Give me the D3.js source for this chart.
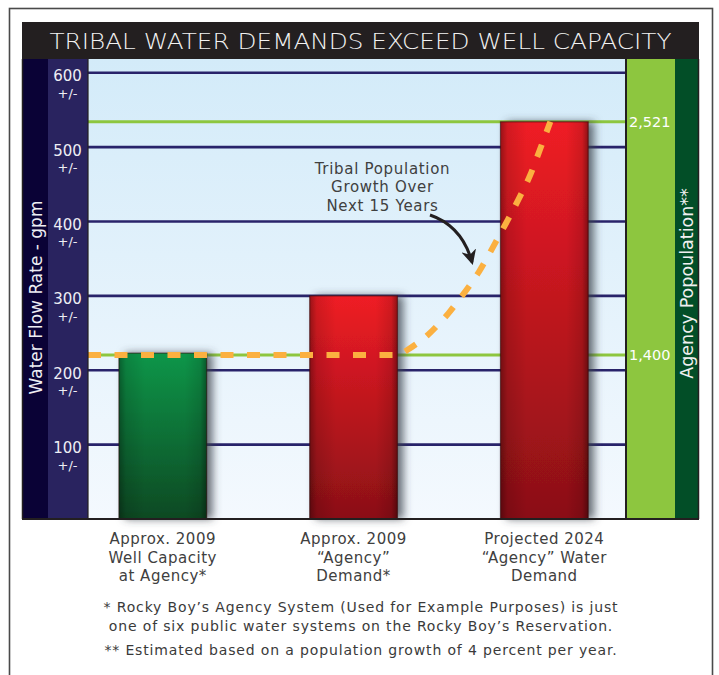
<!DOCTYPE html>
<html><head><meta charset="utf-8">
<script src="https://cdn.jsdelivr.net/npm/d3@7"></script>
<style>body{margin:0;background:#fff}</style>
</head><body>
<script>
// ---------- data ----------
const categoryKeys = ["capacity2009", "demand2009", "demand2024"];
const categoryLabels = [
  ["Approx. 2009", "Well Capacity", "at Agency*"],
  ["Approx. 2009", "\u201CAgency\u201D", "Demand*"],
  ["Projected 2024", "\u201CAgency\u201D Water", "Demand"]
];
const flowValues = [223, 300, 534];           // gpm
const barKinds = ["green", "red", "red"];
const flowTicks = [100, 200, 300, 400, 500, 600];
const popTicks = [1400, 2521];                // agency population labels
const popFlowEquivalent = [220.5, 534];       // gpm level at which each population line sits
const popYears = [2009, 2010, 2011, 2012, 2013, 2014, 2015, 2016, 2017, 2018, 2019, 2020, 2021, 2022, 2023, 2024];
const popValues = [1400, 1425, 1458, 1497, 1546, 1600, 1663, 1728, 1800, 1885, 1975, 2065, 2160, 2262, 2390, 2521];
const titleText = "TRIBAL WATER DEMANDS EXCEED WELL CAPACITY";
const yTitle = "Water Flow Rate - gpm";
const y2Title = "Agency Popoulation**";
const annotationLines = ["Tribal Population", "Growth Over", "Next 15 Years"];
const footnotes = [
  "* Rocky Boy\u2019s Agency System (Used for Example Purposes) is just",
  "one of six public water systems on the Rocky Boy\u2019s Reservation.",
  "** Estimated based on a population growth of 4 percent per year."
];

// ---------- layout ----------
const W = 719, H = 675;
const chartL = 22, chartR = 699, chartT = 59, chartB = 519;
const plotL = 88, plotR = 626;
const FONT = "'DejaVu Sans', sans-serif";

const svg = d3.select("body").append("svg").attr("width", W).attr("height", H)
  .style("font-family", FONT);
const defs = svg.append("defs");

// gradients
const bg = defs.append("linearGradient").attr("id", "plotBg").attr("x1", 0).attr("x2", 0).attr("y1", 0).attr("y2", 1);
bg.append("stop").attr("offset", "0%").attr("stop-color", "#d3ebf9");
bg.append("stop").attr("offset", "100%").attr("stop-color", "#f4f9fe");

function vGrad(id, top, bottom) {
  const g = defs.append("linearGradient").attr("id", id).attr("x1", 0).attr("x2", 0).attr("y1", 0).attr("y2", 1);
  g.append("stop").attr("offset", "0%").attr("stop-color", top);
  g.append("stop").attr("offset", "100%").attr("stop-color", bottom);
}
vGrad("green", "#0b9649", "#0b4923");
vGrad("red", "#ef1c25", "#8a1017");
const edge = defs.append("linearGradient").attr("id", "edge").attr("x1", 0).attr("x2", 1).attr("y1", 0).attr("y2", 0);
[[0, 0.35], [0.08, 0.12], [0.3, 0], [0.75, 0], [0.93, 0.12], [1, 0.4]].forEach(([o, a]) =>
  edge.append("stop").attr("offset", o).attr("stop-color", "#000").attr("stop-opacity", a));

const shadow = defs.append("filter").attr("id", "shadow").attr("x", "-30%").attr("y", "-20%").attr("width", "160%").attr("height", "140%");
shadow.append("feDropShadow").attr("dx", 6).attr("dy", 0).attr("stdDeviation", 4.5)
  .attr("flood-color", "#3a3f48").attr("flood-opacity", 0.75);

defs.append("marker").attr("id", "arrow").attr("viewBox", "0 0 10 10")
  .attr("refX", 8).attr("refY", 5).attr("markerWidth", 5).attr("markerHeight", 5)
  .attr("orient", "auto").attr("markerUnits", "strokeWidth")
  .append("path").attr("d", "M0,0 L10,5 L0,10 L3,5 Z").attr("fill", "#231f20");

// outer frame
svg.append("rect").attr("x", 9.5).attr("y", 8.5).attr("width", 703).attr("height", 720)
  .attr("fill", "none").attr("stroke", "#4a4a4a").attr("stroke-width", 1.6);

// title bar
svg.append("rect").attr("x", chartL).attr("y", 22).attr("width", chartR - chartL).attr("height", chartT - 22).attr("fill", "#231f20");
svg.append("text").attr("x", (chartL + chartR) / 2).attr("y", 48.5).attr("text-anchor", "middle")
  .attr("fill", "#f2f2f2").style("font-size", "21px").style("font-weight", 200)
  .attr("textLength", 622).attr("lengthAdjust", "spacingAndGlyphs")
  .text(titleText);

// scales
const y = d3.scaleLinear().domain([0, 600]).range([chartB, 72.7]);
const x = d3.scaleBand().domain(categoryKeys).range([plotL, plotR])
  .paddingInner(0.54).paddingOuter(0.18).align(0.45);
const yPop = d3.scaleLinear().domain(popTicks).range(popFlowEquivalent.map(v => y(v)));
const xYear = d3.scaleLinear().domain([popYears[0], popYears[popYears.length - 1]])
  .range([x(categoryKeys[1]) + x.bandwidth(), x(categoryKeys[2]) + x.bandwidth() / 2 + 6]);

// side bands
svg.append("rect").attr("x", chartL).attr("y", chartT).attr("width", 26).attr("height", chartB - chartT).attr("fill", "#0a0236");
svg.append("rect").attr("x", chartL + 26).attr("y", chartT).attr("width", plotL - chartL - 26).attr("height", chartB - chartT).attr("fill", "#29235f");
svg.append("rect").attr("x", plotR).attr("y", chartT).attr("width", 49).attr("height", chartB - chartT).attr("fill", "#8dc63f");
svg.append("rect").attr("x", plotR + 49).attr("y", chartT).attr("width", chartR - plotR - 49).attr("height", chartB - chartT).attr("fill", "#024e27");

// plot background
svg.append("rect").attr("x", plotL).attr("y", chartT).attr("width", plotR - plotL).attr("height", chartB - chartT).attr("fill", "url(#plotBg)");

// grid lines (left axis)
svg.append("g").attr("class", "grid").selectAll("line").data(flowTicks).join("line")
  .attr("x1", plotL).attr("x2", plotR).attr("y1", d => y(d)).attr("y2", d => y(d))
  .attr("stroke", "#28236a").attr("stroke-width", 2.6);

// left tick labels
const lt = svg.append("g").attr("fill", "#eeeef4").attr("text-anchor", "middle").style("font-size", "15px");
lt.selectAll("text.v").data(flowTicks).join("text").attr("class", "v")
  .attr("x", 67.5).attr("y", d => y(d) + 8.5).text(d => d);
lt.selectAll("text.pm").data(flowTicks).join("text").attr("class", "pm")
  .attr("x", 67.5).attr("y", d => y(d) + 25).style("font-size", "13px").text("+/-");

// population lines
svg.append("g").selectAll("line").data(popTicks).join("line")
  .attr("x1", plotL).attr("x2", plotR).attr("y1", d => yPop(d)).attr("y2", d => yPop(d))
  .attr("stroke", "#8dc63f").attr("stroke-width", 3);

// bars
const bars = svg.append("g").selectAll("g").data(categoryKeys).join("g");
bars.append("rect")
  .attr("x", d => x(d)).attr("width", x.bandwidth())
  .attr("y", (d, i) => y(flowValues[i])).attr("height", (d, i) => y(0) - y(flowValues[i]))
  .attr("fill", (d, i) => `url(#${barKinds[i]})`)
  .attr("filter", "url(#shadow)");
bars.append("rect")
  .attr("x", d => x(d)).attr("width", x.bandwidth())
  .attr("y", (d, i) => y(flowValues[i])).attr("height", (d, i) => y(0) - y(flowValues[i]))
  .attr("fill", "url(#edge)").attr("stroke", "rgba(40,10,10,0.55)").attr("stroke-width", 1.2);

// population dashed curve
const popPts = [{ px: plotL, pop: popValues[0] }].concat(popYears.map((yr, i) => ({ px: xYear(yr), pop: popValues[i] })));
svg.append("path").datum(popPts)
  .attr("d", d3.line().x(d => d.px).y(d => yPop(d.pop)).curve(d3.curveMonotoneX))
  .attr("fill", "none").attr("stroke", "#fbb040").attr("stroke-width", 6)
  .attr("stroke-dasharray", "13,13.5");

// right labels
svg.append("g").selectAll("text").data(popTicks).join("text")
  .attr("x", plotR + 3).attr("y", d => yPop(d) + 5.5).attr("fill", "#ffffff")
  .style("font-size", "14.5px").text(d3.format(","));

// frame lines
const fr = svg.append("g").attr("stroke", "#231f20");
fr.append("line").attr("x1", plotL).attr("x2", plotL).attr("y1", chartT).attr("y2", chartB).attr("stroke-width", 1.2);
fr.append("line").attr("x1", plotR).attr("x2", plotR).attr("y1", chartT).attr("y2", chartB).attr("stroke-width", 2);
fr.append("line").attr("x1", chartL).attr("x2", chartR).attr("y1", chartB).attr("y2", chartB).attr("stroke-width", 2.2);
fr.append("line").attr("x1", chartL + 0.5).attr("x2", chartL + 0.5).attr("y1", chartT).attr("y2", chartB).attr("stroke-width", 1.5);
fr.append("line").attr("x1", chartR - 0.5).attr("x2", chartR - 0.5).attr("y1", chartT).attr("y2", chartB).attr("stroke-width", 1.5);

// axis titles
svg.append("text").attr("transform", `translate(35.5,297.5) rotate(-90)`)
  .attr("text-anchor", "middle").attr("dominant-baseline", "central").attr("fill", "#eeeef4")
  .style("font-size", "17px").text(yTitle);
svg.append("text").attr("transform", `translate(687,283.5) rotate(-90)`)
  .attr("text-anchor", "middle").attr("dominant-baseline", "central").attr("fill", "#f0f0f0")
  .style("font-size", "17.5px").text(y2Title);

// category labels
const cl = svg.append("g").attr("fill", "#404040").attr("text-anchor", "middle")
  .style("font-size", "15px").style("letter-spacing", "0.5px");
categoryKeys.forEach((k, i) => {
  categoryLabels[i].forEach((line, j) => {
    cl.append("text").attr("x", x(k) + x.bandwidth() / 2).attr("y", 544 + j * 18.7).text(line);
  });
});

// annotation
const an = svg.append("g").attr("fill", "#404040").attr("text-anchor", "middle")
  .style("font-size", "15px").style("letter-spacing", "0.7px");
annotationLines.forEach((line, j) => an.append("text").attr("x", 382.5).attr("y", 174 + j * 18.3).text(line));
svg.append("path").attr("d", "M430,215 Q462,226 472,262")
  .attr("fill", "none").attr("stroke", "#231f20").attr("stroke-width", 3)
  .attr("marker-end", "url(#arrow)");

// footnotes
const fn = svg.append("g").attr("fill", "#3a3a3a").attr("text-anchor", "middle")
  .style("font-size", "14px").style("letter-spacing", "0.85px");
footnotes.forEach((t, j) => fn.append("text").attr("x", 361).attr("y", [612, 631, 655][j]).text(t));
</script>
</body></html>
